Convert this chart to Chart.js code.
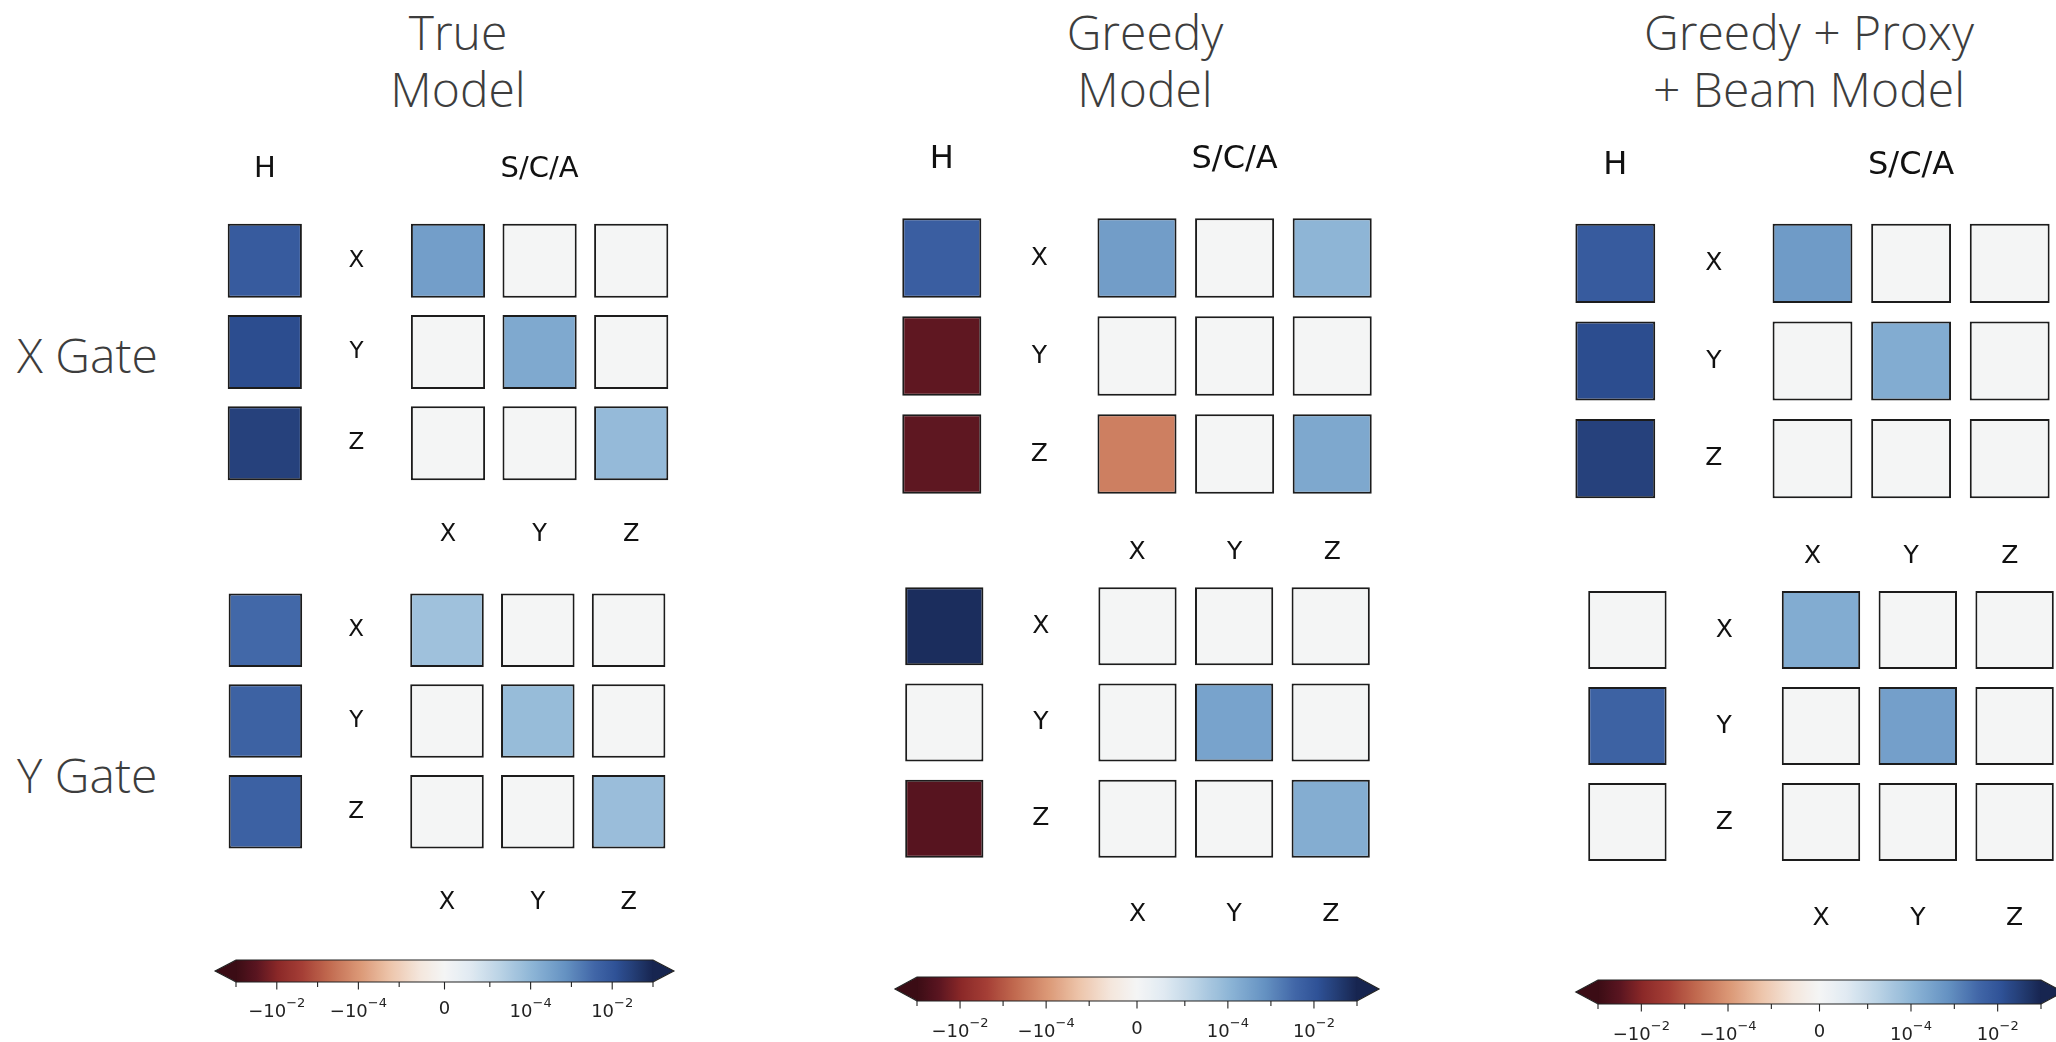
<!DOCTYPE html>
<html>
<head>
<meta charset="utf-8">
<script src="https://cdn.jsdelivr.net/npm/chart.js@4.4.1/dist/chart.umd.min.js"></script>
<style>
  html, body { margin: 0; padding: 0; background: #fff; }
  body { width: 2056px; height: 1042px; overflow: hidden; position: relative; }
  .box { position: absolute; }
  .title, .gate {
    position: absolute; font-family: 'Open Sans', sans-serif; font-weight: 300;
    font-size: 48px; line-height: 57px; color: #3d3d3d; white-space: nowrap;
  }
  .title { text-align: center; transform: translateX(-50%); }
</style>
</head>
<body>
<div class="title" style="left:458px;top:3px">True<br>Model</div>
<div class="title" style="left:1145px;top:3px">Greedy<br>Model</div>
<div class="title" style="left:1809px;top:3px">Greedy + Proxy<br>+ Beam Model</div>
<div class="gate" style="left:17px;top:326px">X Gate</div>
<div class="gate" style="left:17px;top:746px">Y Gate</div>

<div class="box" style="left:219px;top:124px;width:458px;height:456px"><canvas id="gTrueX"></canvas></div>
<div class="box" style="left:220px;top:494px;width:454px;height:454px"><canvas id="gTrueY"></canvas></div>
<div class="box" style="left:893px;top:111px;width:488px;height:490px"><canvas id="gGreedyX"></canvas></div>
<div class="box" style="left:896px;top:482px;width:483px;height:481px"><canvas id="gGreedyY"></canvas></div>
<div class="box" style="left:1566px;top:117px;width:493px;height:488px"><canvas id="gBeamX"></canvas></div>
<div class="box" style="left:1579px;top:486px;width:484px;height:480px"><canvas id="gBeamY"></canvas></div>

<div class="box" style="left:206px;top:950px;width:477px;height:90px"><canvas id="cbTrue"></canvas></div>
<div class="box" style="left:887px;top:967px;width:500px;height:75px"><canvas id="cbGreedy"></canvas></div>
<div class="box" style="left:1568px;top:970px;width:503px;height:72px"><canvas id="cbBeam"></canvas></div>

<script>
// ---- labels ----
const rowLabels = ['X', 'Y', 'Z'];
const gridColumns = ['H', '', 'X', 'Y', 'Z'];   // H column, row-label gap, S/C/A columns

// ---- error-generator rates: H (Hamiltonian) per axis, S/C/A 3x3 matrix ----
const trueXGateH   = [7.2e-3, 1.52e-2, 2.74e-2];
const trueXGateSCA = [[3.7e-4, 0, 0], [0, 2.1e-4, 0], [0, 0, 7.8e-5]];
const trueYGateH   = [3.5e-3, 4.8e-3, 5.1e-3];
const trueYGateSCA = [[5.2e-5, 0, 0], [0, 7.3e-5, 0], [0, 0, 6.5e-5]];

const greedyXGateH   = [5.8e-3, -2.7e-2, -2.8e-2];
const greedyXGateSCA = [[3.9e-4, 0, 1.06e-4], [0, 0, 0], [-2.4e-4, 0, 2.2e-4]];
const greedyYGateH   = [6.9e-2, 0, -3.5e-2];
const greedyYGateSCA = [[0, 0, 0], [0, 2.9e-4, 0], [0, 0, 1.66e-4]];

const beamXGateH   = [7.2e-3, 1.52e-2, 2.74e-2];
const beamXGateSCA = [[4.5e-4, 0, 0], [0, 1.8e-4, 0], [0, 0, 0]];
const beamYGateH   = [0, 4.8e-3, 0];
const beamYGateSCA = [[1.8e-4, 0, 0], [0, 3.5e-4, 0], [0, 0, 0]];

// ---- colour scale: symmetric-log norm and diverging red/blue map ----
const linthresh = 1e-5, linscale = 1, vmin = -0.1, vmax = 0.1;
const cmapStops = [
  [0.00, '#3b0c15'], [0.05, '#5a1520'], [0.10, '#8a2828'], [0.16, '#a53f36'],
  [0.22, '#c0684e'], [0.30, '#dc9a78'], [0.37, '#edc5ab'], [0.44, '#f4e6dc'],
  [0.50, '#f4f5f5'], [0.56, '#e1eaf2'], [0.63, '#bcd4e6'], [0.71, '#8db5d6'],
  [0.79, '#6592c2'], [0.86, '#4166a7'], [0.91, '#2f5297'], [0.96, '#223a70'],
  [1.00, '#172550']
];
const cbTicks     = [-1e-1, -1e-2, -1e-3, -1e-4, -1e-5, 0, 1e-5, 1e-4, 1e-3, 1e-2, 1e-1];
const cbLabelBase = ['', '\u221210', '', '\u221210', '', '0', '', '10', '', '10', ''];
const cbLabelExp  = ['', '\u22122', '', '\u22124', '', '', '', '\u22124', '', '\u22122', ''];

const LS = linscale / (1 - 1 / 10);
function symlog(v) {
  const a = Math.abs(v);
  return a <= linthresh ? (v / linthresh) * LS : Math.sign(v) * (LS + Math.log10(a / linthresh));
}
const tMin = symlog(vmin), tMax = symlog(vmax);
function hexToRgb(h) { const n = parseInt(h.slice(1), 16); return [(n >> 16) & 255, (n >> 8) & 255, n & 255]; }
function cmap(p) {
  p = Math.min(1, Math.max(0, p));
  for (let i = 1; i < cmapStops.length; i++) {
    const [p1, c1] = cmapStops[i - 1], [p2, c2] = cmapStops[i];
    if (p <= p2) {
      const t = (p - p1) / (p2 - p1), a = hexToRgb(c1), b = hexToRgb(c2);
      return 'rgb(' + a.map((v, k) => Math.round(v + (b[k] - v) * t)).join(',') + ')';
    }
  }
  return cmapStops[cmapStops.length - 1][1];
}
function colorFor(v) { return cmap((symlog(v) - tMin) / (tMax - tMin)); }

// ---- text drawn on each grid through its scales ----
const gridText = {
  id: 'gridText',
  afterDatasetsDraw(chart, args, o) {
    const { ctx, scales: { x, y } } = chart;
    ctx.save();
    ctx.fillStyle = '#111';
    ctx.textAlign = 'center';
    ctx.textBaseline = 'middle';
    if (o.header) {
      ctx.font = o.headSize + 'px "DejaVu Sans"';
      ctx.fillText('H', x.getPixelForValue(0), y.getPixelForValue(-1));
      ctx.fillText('S/C/A', x.getPixelForValue(3), y.getPixelForValue(-1));
    }
    ctx.font = o.rowSize + 'px "DejaVu Sans"';
    rowLabels.forEach((r, i) => ctx.fillText(r, x.getPixelForValue(1), y.getPixelForValue(i)));
    ctx.font = o.colSize + 'px "DejaVu Sans"';
    gridColumns.forEach((c, j) => { if (j >= 2) ctx.fillText(c, x.getPixelForValue(j), y.getPixelForValue(3)); });
    ctx.restore();
  }
};

const cellHalf = 0.405;
function gridChart(id, hVals, scaVals, text) {
  const datasets = rowLabels.map((r, ri) => {
    const vals = [hVals[ri], null, ...scaVals[ri]];
    return {
      label: r,
      data: vals.map(v => v === null ? null : [ri - cellHalf, ri + cellHalf]),
      backgroundColor: vals.map(v => v === null ? 'rgba(0,0,0,0)' : colorFor(v)),
      borderColor: '#1c1c1c', borderWidth: 2, borderSkipped: false,
      grouped: false, categoryPercentage: 1, barPercentage: 0.81
    };
  });
  return new Chart(document.getElementById(id), {
    type: 'bar',
    data: { labels: gridColumns, datasets },
    options: {
      responsive: true, maintainAspectRatio: false, animation: false, events: [],
      layout: { padding: 0 },
      plugins: { legend: { display: false }, tooltip: { enabled: false }, gridText: text },
      scales: {
        x: { type: 'category', display: false, offset: true },
        y: { type: 'linear', display: false, min: -1.5, max: 3.5, reverse: true }
      }
    },
    plugins: [gridText]
  });
}

// ---- colour bar: gradient bar, extension triangles, ticks ----
const colorbarDecor = {
  id: 'colorbarDecor',
  afterDatasetsDraw(chart, args, o) {
    const { ctx, chartArea: a, scales: { x } } = chart;
    const ext = 0.05 * (a.right - a.left), mid = (a.top + a.bottom) / 2;
    ctx.save();
    ctx.fillStyle = cmap(0);
    ctx.beginPath(); ctx.moveTo(a.left + 0.5, a.top); ctx.lineTo(a.left - ext, mid); ctx.lineTo(a.left + 0.5, a.bottom); ctx.closePath(); ctx.fill();
    ctx.fillStyle = cmap(1);
    ctx.beginPath(); ctx.moveTo(a.right - 0.5, a.top); ctx.lineTo(a.right + ext, mid); ctx.lineTo(a.right - 0.5, a.bottom); ctx.closePath(); ctx.fill();
    ctx.strokeStyle = '#222'; ctx.lineWidth = 1.2;
    ctx.beginPath();
    ctx.moveTo(a.left, a.top); ctx.lineTo(a.right, a.top); ctx.lineTo(a.right + ext, mid);
    ctx.lineTo(a.right, a.bottom); ctx.lineTo(a.left, a.bottom); ctx.lineTo(a.left - ext, mid); ctx.closePath();
    ctx.stroke();
    ctx.lineWidth = 1.1;
    ctx.fillStyle = '#222';
    ctx.textBaseline = 'middle';
    cbTicks.forEach((v, i) => {
      const px = x.getPixelForValue(symlog(v));
      const major = cbLabelBase[i] !== '';
      ctx.beginPath(); ctx.moveTo(px, a.bottom); ctx.lineTo(px, a.bottom + (major ? 7.5 : 5)); ctx.stroke();
      if (!major) return;
      const baseFont = o.fontSize + 'px "DejaVu Sans"', expFont = Math.round(o.fontSize * 0.7) + 'px "DejaVu Sans"';
      ctx.font = baseFont; const wb = ctx.measureText(cbLabelBase[i]).width;
      ctx.font = expFont; const we = cbLabelExp[i] ? ctx.measureText(cbLabelExp[i]).width : 0;
      const left = px - (wb + we) / 2;
      const yb = a.bottom + o.labelOffset + (cbLabelExp[i] ? 3 : 0);
      ctx.textAlign = 'left';
      ctx.font = baseFont; ctx.fillText(cbLabelBase[i], left, yb);
      if (cbLabelExp[i]) { ctx.font = expFont; ctx.fillText(cbLabelExp[i], left + wb, yb - o.fontSize * 0.45); }
    });
    ctx.restore();
  }
};

function colorbarChart(id, pad, text) {
  return new Chart(document.getElementById(id), {
    type: 'bar',
    data: {
      labels: ['scale'],
      datasets: [{
        data: [[tMin, tMax]],
        borderWidth: 0, categoryPercentage: 1, barPercentage: 1,
        backgroundColor(c) {
          const a = c.chart.chartArea;
          if (!a) return cmap(0.5);
          const g = c.chart.ctx.createLinearGradient(a.left, 0, a.right, 0);
          for (let i = 0; i <= 100; i++) g.addColorStop(i / 100, cmap(i / 100));
          return g;
        }
      }]
    },
    options: {
      indexAxis: 'y', responsive: true, maintainAspectRatio: false, animation: false, events: [],
      layout: { padding: pad },
      plugins: { legend: { display: false }, tooltip: { enabled: false }, colorbarDecor: text },
      scales: {
        x: { type: 'linear', display: false, min: tMin, max: tMax },
        y: { type: 'category', display: false }
      }
    },
    plugins: [colorbarDecor]
  });
}

const smallText = { header: true, headSize: 29, rowSize: 23, colSize: 24 };
const largeText = { header: true, headSize: 32, rowSize: 25, colSize: 25 };
gridChart('gTrueX', trueXGateH, trueXGateSCA, smallText);
gridChart('gTrueY', trueYGateH, trueYGateSCA, { ...smallText, header: false });
gridChart('gGreedyX', greedyXGateH, greedyXGateSCA, largeText);
gridChart('gGreedyY', greedyYGateH, greedyYGateSCA, { ...largeText, header: false });
gridChart('gBeamX', beamXGateH, beamXGateSCA, largeText);
gridChart('gBeamY', beamYGateH, beamYGateSCA, { ...largeText, header: false });

colorbarChart('cbTrue', { left: 30, right: 30, top: 10, bottom: 58 }, { fontSize: 18, labelOffset: 27 });
colorbarChart('cbGreedy', { left: 30, right: 30, top: 10, bottom: 41 }, { fontSize: 18, labelOffset: 28 });
colorbarChart('cbBeam', { left: 30, right: 30, top: 10, bottom: 38 }, { fontSize: 18, labelOffset: 28 });
</script>
</body>
</html>
